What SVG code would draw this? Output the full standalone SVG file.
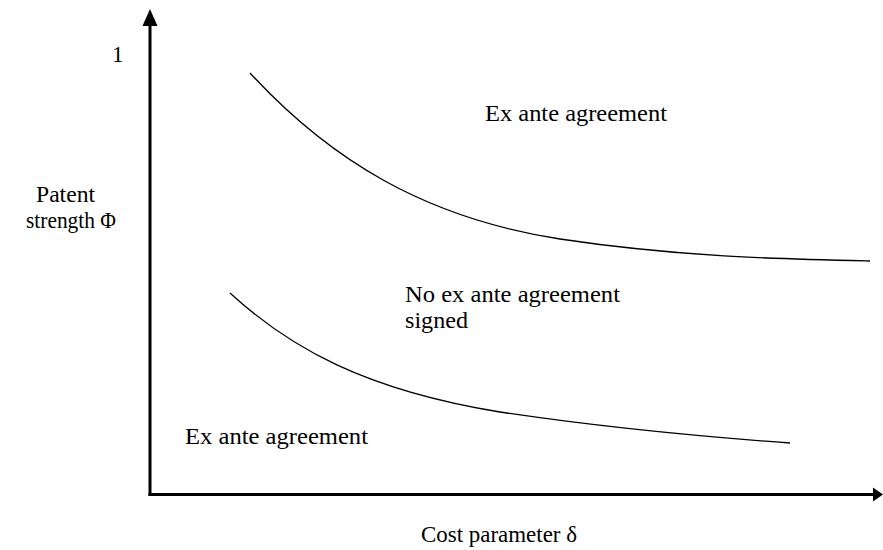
<svg xmlns="http://www.w3.org/2000/svg" width="883" height="550" viewBox="0 0 883 550">
<defs>
<style>
.t{font-family:"Liberation Serif","Times New Roman",serif;font-size:23px;fill:#000}
.curve{fill:none;stroke:#000;stroke-width:1.3}
.axis{fill:none;stroke:#000;stroke-width:3}
</style>
</defs>
<rect width="883" height="550" fill="#fff"/>
<g id="axes">
<line class="axis" x1="150" y1="496" x2="150" y2="22"/>
<line class="axis" x1="148.5" y1="494.5" x2="874" y2="494.5"/>
<polygon points="150,9 142.5,26 157.5,26" fill="#000"/>
<polygon points="883,494.5 873,487.5 873,501.5" fill="#000"/>
</g>
<g id="connectors">
<path id="upper-boundary" class="curve" d="M250,73 C330,160 425,218 560,239 C680,257 780,259 870,261"/>
<path id="lower-boundary" class="curve" d="M230,293 C290,348 365,390 500,412 C620,430 720,438 790,443"/>
</g>
<g id="labels">
<text class="t" x="112" y="62">1</text>
<text class="t" x="36" y="202" textLength="59" lengthAdjust="spacingAndGlyphs">Patent</text>
<text class="t" x="26" y="228" textLength="90" lengthAdjust="spacingAndGlyphs">strength Φ</text>
<text class="t" x="485" y="121" textLength="182" lengthAdjust="spacingAndGlyphs">Ex ante agreement</text>
<text class="t" x="405" y="302" textLength="215" lengthAdjust="spacingAndGlyphs">No ex ante agreement</text>
<text class="t" x="405" y="328" textLength="63" lengthAdjust="spacingAndGlyphs">signed</text>
<text class="t" x="185" y="444" textLength="183" lengthAdjust="spacingAndGlyphs">Ex ante agreement</text>
<text class="t" x="421" y="542" textLength="156" lengthAdjust="spacingAndGlyphs">Cost parameter δ</text>
</g>
</svg>
